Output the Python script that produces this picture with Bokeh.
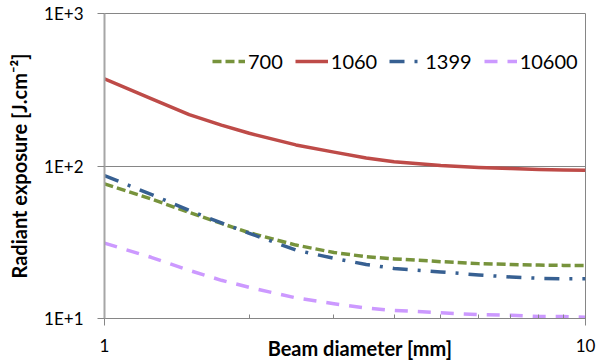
from bokeh.plotting import figure
from bokeh.models import FixedTicker, Legend, LegendItem
from bokeh.embed import file_html
from bokeh.resources import INLINE

# Beam diameter [mm]
diameter = [1, 1.25, 1.5, 1.75, 2, 2.5, 3, 3.5, 4, 5, 6, 7, 8, 9, 10]

# Radiant exposure [J.cm-2] per wavelength [nm]
series_names = ["700", "1060", "1399", "10600"]
exp_700 = [76.4, 60.8, 49.6, 42.0, 36.5, 30.3, 27.1, 25.4, 24.6, 23.6, 22.9, 22.6, 22.4, 22.3, 22.3]
exp_1060 = [373, 277, 217, 185.5, 163.9, 137.5, 123.3, 112.9, 106.5, 100.8, 97.9, 96.2, 94.7, 94.1, 93.9]
exp_1399 = [86.6, 65.1, 51.2, 42.3, 36.2, 28.1, 24.8, 22.6, 21.3, 20.2, 19.3, 18.7, 18.35, 18.2, 18.2]
exp_10600 = [31.2, 25.2, 20.7, 17.8, 16.0, 13.65, 12.5, 11.7, 11.3, 10.9, 10.6, 10.5, 10.3, 10.3, 10.2]

y_ticks = [10, 100, 1000]
y_tick_labels = ["1E+1", "1E+2", "1E+3"]
x_ticks = [1, 10]
x_minor_ticks = [2, 3, 4, 5, 6, 7, 8, 9]

FONT = "Lato"

p = figure(width=604, height=362, x_axis_type="log", y_axis_type="log",
           x_range=(1, 10), y_range=(10, 1000),
           output_backend="svg", toolbar_location=None,
           min_border_left=104, min_border_right=19,
           min_border_top=13, min_border_bottom=44)
p.background_fill_color = "white"
p.border_fill_color = "white"
p.outline_line_color = "#868686"
p.outline_line_width = 1

# grids
p.xgrid.visible = False
p.ygrid.ticker = FixedTicker(ticks=y_ticks)
p.ygrid.grid_line_color = "#868686"
p.ygrid.grid_line_width = 1

# x axis
xa = p.xaxis[0]
xa.ticker = FixedTicker(ticks=x_ticks, minor_ticks=x_minor_ticks)
xa.axis_line_color = "#868686"
xa.axis_line_width = 1
xa.major_tick_line_color = "#868686"
xa.minor_tick_line_color = "#868686"
xa.major_tick_in = 4
xa.major_tick_out = 7
xa.minor_tick_in = 4
xa.minor_tick_out = 0
xa.major_label_overrides = {1: "1", 10: "10"}
xa.major_label_text_font = FONT
xa.major_label_text_font_size = "17px"
xa.major_label_text_color = "black"
xa.major_label_standoff = 13
xa.axis_label = "\u2003\u2003Beam diameter [mm]"
xa.axis_label_text_font = FONT
xa.axis_label_text_font_size = "20px"
xa.axis_label_text_font_style = "bold"
xa.axis_label_text_color = "black"
xa.axis_label_standoff = -19

# y axis
ya = p.yaxis[0]
ya.ticker = FixedTicker(ticks=y_ticks)
ya.axis_line_color = "#A6A6A6"
ya.axis_line_width = 2
ya.major_tick_line_color = "#868686"
ya.major_tick_in = 0
ya.major_tick_out = 7
ya.minor_tick_line_color = None
ya.major_label_overrides = {t: l for t, l in zip(y_ticks, y_tick_labels)}
ya.major_label_text_font = FONT
ya.major_label_text_font_size = "17px"
ya.major_label_text_color = "black"
ya.major_label_standoff = 14
ya.axis_label = "Radiant exposure [J.cm\u207b\u00b2]"
ya.axis_label_text_font = FONT
ya.axis_label_text_font_size = "20px"
ya.axis_label_text_font_style = "bold"
ya.axis_label_text_color = "black"
ya.axis_label_standoff = 10

styles = {
    "700": dict(color="#77933C", dash="9 4"),
    "1060": dict(color="#BE4B48", dash="solid"),
    "1399": dict(color="#376092", dash="15 10 3 10"),
    "10600": dict(color="#CC99FF", dash="13 10"),
}
data = {"700": exp_700, "1060": exp_1060, "1399": exp_1399, "10600": exp_10600}

items = []
for name in series_names:
    st = styles[name]
    r = p.line(diameter, data[name], line_color=st["color"], line_width=3.5,
               line_dash=st["dash"], line_join="round")
    items.append(LegendItem(label=name, renderers=[r]))

legend = Legend(items=items, orientation="horizontal", location=(108, 245),
                glyph_width=33, glyph_height=18, label_standoff=3, spacing=12,
                padding=0, margin=0, border_line_color=None,
                background_fill_alpha=0,
                label_text_font=FONT, label_text_font_size="20px",
                label_text_color="black")
p.add_layout(legend, "center")

open("out.html", "w").write(file_html(p, INLINE))
